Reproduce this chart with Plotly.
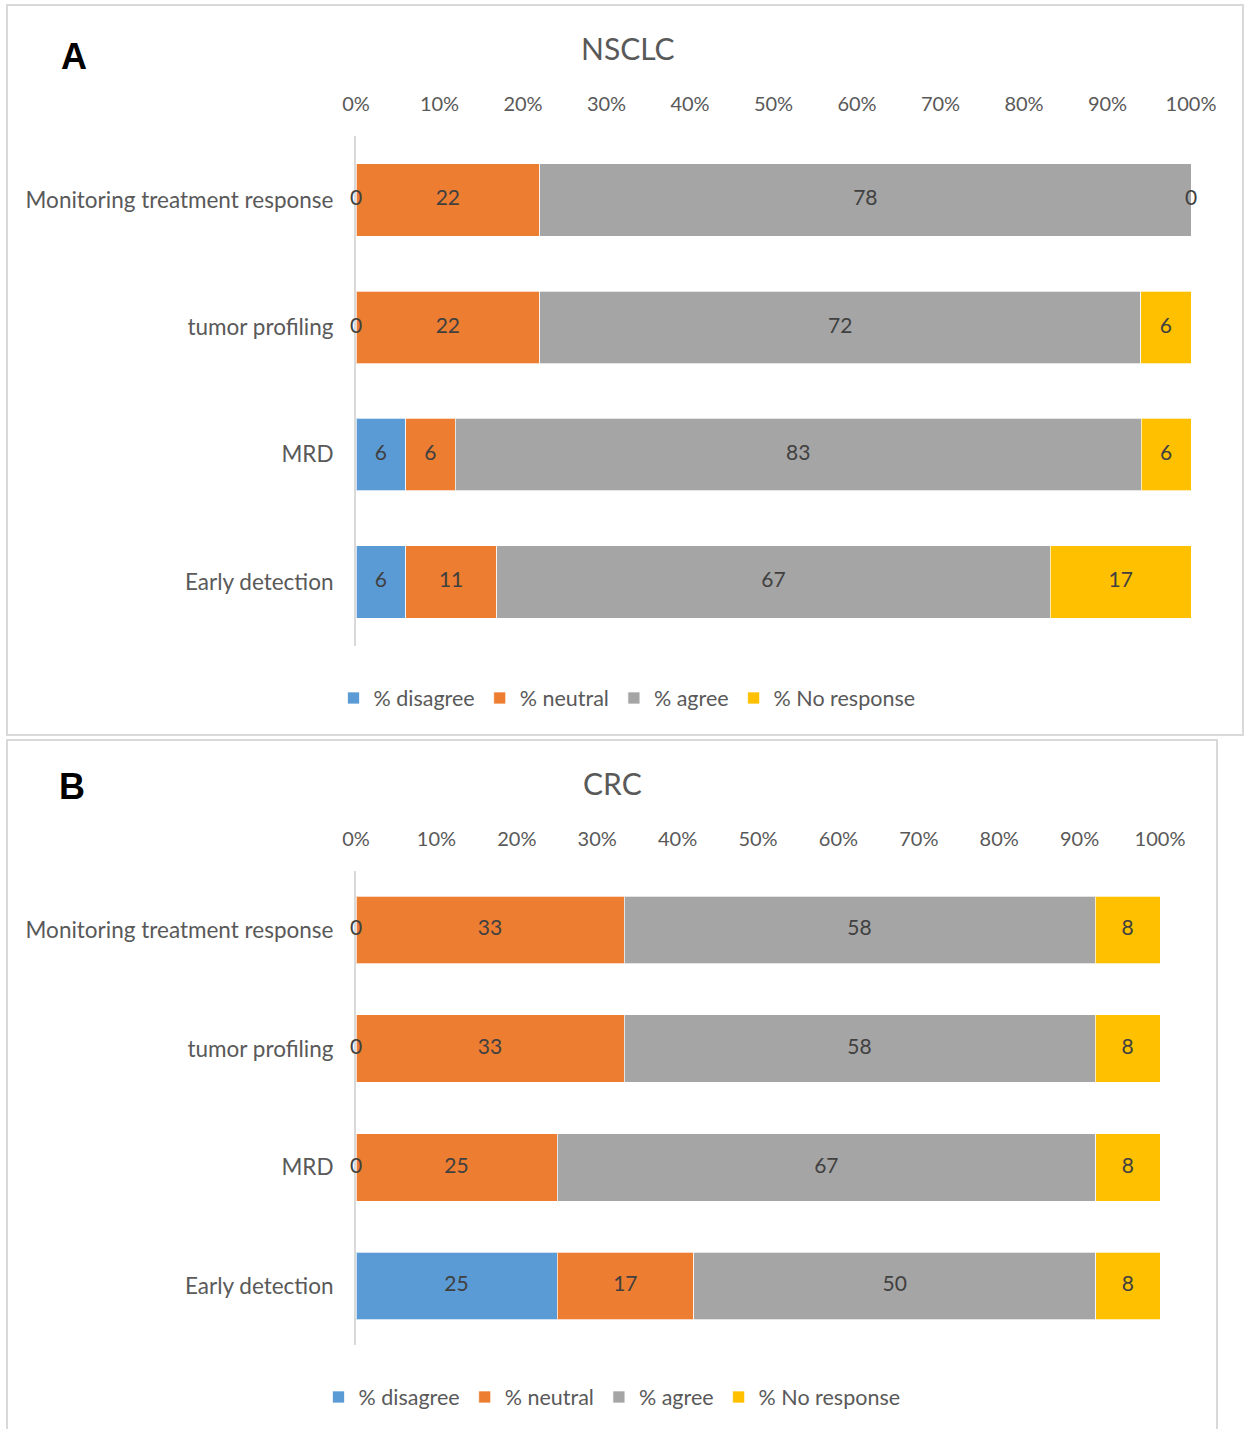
import plotly.graph_objects as go

# ---- data -------------------------------------------------------------
categories = ["Monitoring treatment response", "tumor profiling", "MRD", "Early detection"]
series_names = ["% disagree", "% neutral", "% agree", "% No response"]
series_colors = ["#5B9BD5", "#ED7D31", "#A5A5A5", "#FFC000"]

nsclc_disagree = [0, 0, 6, 6]
nsclc_neutral = [22, 22, 6, 11]
nsclc_agree = [78, 72, 83, 67]
nsclc_no_response = [0, 6, 6, 17]

crc_disagree = [0, 0, 0, 25]
crc_neutral = [33, 33, 25, 17]
crc_agree = [58, 58, 67, 50]
crc_no_response = [8, 8, 8, 8]

pct_ticks = list(range(0, 101, 10))
pct_tick_labels = [f"{t}%" for t in pct_ticks]

# ---- page geometry ----------------------------------------------------
W, H = 1244, 1429
FONT = "Lato"
AXIS_GREY = "#595959"
LABEL_GREY = "#404040"
BORDER = "#D9D9D9"


def px_x(x):
    return x / W


def px_y(y):
    return 1 - y / H


panels = [
    dict(
        name="NSCLC", tag="A", series=[nsclc_disagree, nsclc_neutral, nsclc_agree, nsclc_no_response],
        xa="x", ya="y", legend="legend",
        xdom=[px_x(356), px_x(1191)], ydom=[px_y(645.6), px_y(136.3)],
        title_xy=(628, 48), tag_xy=(74, 56), legend_xy=(627, 698),
        box=(7, 5, 1243, 735),
    ),
    dict(
        name="CRC", tag="B", series=[crc_disagree, crc_neutral, crc_agree, crc_no_response],
        xa="x2", ya="y2", legend="legend2",
        xdom=[px_x(356), px_x(1160)], ydom=[px_y(1345.3), px_y(870.7)],
        title_xy=(612, 783), tag_xy=(72, 786), legend_xy=(612, 1397),
        box=(7, 740, 1217, 1460),
    ),
]

fig = go.Figure()
annotations = []
shapes = []
layout_axes = {}

for p in panels:
    series = p["series"]
    totals = [sum(col) for col in zip(*series)]

    # stacked bars, normalised to 100% per category
    for name, color, vals in zip(series_names, series_colors, series):
        fig.add_trace(go.Bar(
            y=categories, x=vals, name=name, orientation="h",
            marker=dict(color=color, line=dict(color="rgba(255,255,255,0.7)", width=1)),
            xaxis=p["xa"], yaxis=p["ya"], legend=p["legend"],
            hoverinfo="skip",
        ))

    # value labels centred in each segment (zero segments sit on their boundary)
    cum = [0] * len(categories)
    for vals in series:
        xs = [(c + v / 2) / t * 100 for c, v, t in zip(cum, vals, totals)]
        fig.add_trace(go.Scatter(
            x=xs, y=categories, mode="text", text=[str(v) for v in vals],
            textposition="middle center",
            textfont=dict(family=FONT, size=21, color=LABEL_GREY),
            xaxis=p["xa"], yaxis=p["ya"], showlegend=False, cliponaxis=False,
            hoverinfo="skip",
        ))
        cum = [c + v for c, v in zip(cum, vals)]

    xkey = "xaxis" if p["xa"] == "x" else "xaxis2"
    ykey = "yaxis" if p["ya"] == "y" else "yaxis2"
    layout_axes[xkey] = dict(
        domain=p["xdom"], anchor=p["ya"], side="top", range=[0, 100],
        tickvals=pct_ticks, ticktext=pct_tick_labels,
        showgrid=False, zeroline=False, showline=False,
        ticks="outside", ticklen=16, tickcolor="rgba(0,0,0,0)",
        tickfont=dict(family=FONT, size=20, color=AXIS_GREY),
        fixedrange=True, automargin=False,
    )
    layout_axes[ykey] = dict(
        domain=p["ydom"], anchor=p["xa"], autorange="reversed",
        type="category", categoryorder="array", categoryarray=categories,
        showgrid=False, zeroline=False,
        showline=True, linecolor=BORDER, linewidth=2, layer="below traces",
        ticks="outside", ticklen=16, tickcolor="rgba(0,0,0,0)",
        tickfont=dict(family=FONT, size=22.5, color=AXIS_GREY),
        fixedrange=True, automargin=False,
    )

    tx, ty = p["title_xy"]
    annotations.append(dict(
        text=p["name"], x=px_x(tx), y=px_y(ty), xref="paper", yref="paper",
        xanchor="center", yanchor="middle", showarrow=False,
        font=dict(family=FONT, size=30, color=AXIS_GREY),
    ))
    gx, gy = p["tag_xy"]
    annotations.append(dict(
        text=f"<b>{p['tag']}</b>", x=px_x(gx), y=px_y(gy), xref="paper", yref="paper",
        xanchor="center", yanchor="middle", showarrow=False,
        font=dict(family="Liberation Sans", size=36, color="black"),
    ))

    x0, y0, x1, y1 = p["box"]
    shapes.append(dict(
        type="rect", xref="paper", yref="paper",
        x0=px_x(x0), x1=px_x(x1), y0=px_y(y1), y1=px_y(y0),
        line=dict(color=BORDER, width=2), fillcolor="rgba(0,0,0,0)", layer="below",
    ))

    lx, ly = p["legend_xy"]
    layout_axes[p["legend"]] = dict(
        orientation="h", x=px_x(lx), xanchor="center", y=px_y(ly), yanchor="middle",
        font=dict(family=FONT, size=21.5, color=AXIS_GREY),
        bgcolor="rgba(0,0,0,0)", traceorder="normal", itemclick=False, itemdoubleclick=False,
    )

fig.update_layout(
    width=W, height=H,
    margin=dict(l=0, r=0, t=0, b=0, autoexpand=False),
    paper_bgcolor="white", plot_bgcolor="white",
    barmode="stack", barnorm="percent", bargap=0.43,
    showlegend=True,
    annotations=annotations, shapes=shapes,
    font=dict(family=FONT, color=AXIS_GREY),
    **layout_axes,
)

fig.write_html("out.html")
